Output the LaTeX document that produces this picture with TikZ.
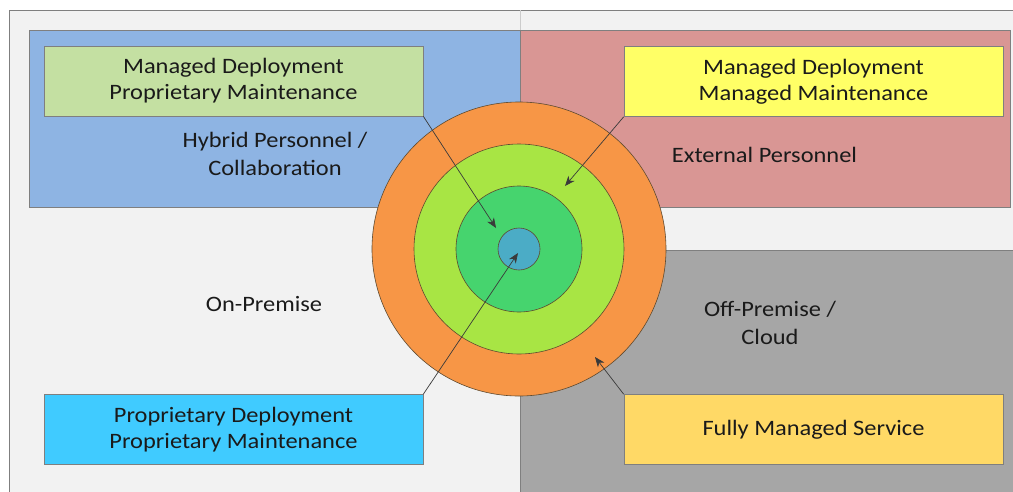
\documentclass[tikz,border=0pt]{standalone}
\usepackage{fontspec}
\setmainfont{Carlito}[FakeStretch=1.11]
\usetikzlibrary{arrows.meta}
\definecolor{bgc}{HTML}{F2F2F2}
\definecolor{framec}{HTML}{7F7F7F}
\definecolor{bluec}{HTML}{8EB4E3}
\definecolor{redc}{HTML}{D99694}
\definecolor{grayc}{HTML}{A6A6A6}
\definecolor{greenbox}{HTML}{C4E0A2}
\definecolor{yellowbox}{HTML}{FFFF66}
\definecolor{cyanbox}{HTML}{40CBFF}
\definecolor{goldbox}{HTML}{FFD966}
\definecolor{orangec}{HTML}{F79646}
\definecolor{lgreenc}{HTML}{A8E544}
\definecolor{dgreenc}{HTML}{46D46E}
\definecolor{centerc}{HTML}{4BACC6}
\definecolor{txtc}{HTML}{1A1A1A}
\definecolor{ringline}{HTML}{5E4A30}
\definecolor{arrline}{HTML}{3A3A3A}
\begin{document}
\begin{tikzpicture}[x=1pt,y=-1pt,
  region/.style={draw=framec, line width=0.7pt},
  ring/.style={circle, draw=ringline, line width=0.6pt, inner sep=0pt},
  box/.style={draw=framec, line width=0.7pt, minimum width=379pt, minimum height=70pt,
    inner sep=0pt, align=center, font=\fontsize{22}{26}\selectfont, text=txtc},
  lbl/.style={align=center, font=\fontsize{22}{28}\selectfont, text=txtc, inner sep=0pt},
  arr/.style={draw=arrline, line width=0.7pt, -{Stealth[length=10pt,width=8pt,inset=3pt]}}
]
\useasboundingbox (0,0) rectangle (1013,491);
\fill[white] (0,0) rectangle (1013,491);
% frame
\draw[region, fill=bgc] (9,10) rectangle (1030,510);
\draw[framec!40, line width=0.5pt] (520,10) -- (520,30);
% regions
\draw[region, fill=bluec] (29,30) rectangle (520,207);
\draw[region, fill=redc] (520,30) rectangle (1010,207);
\draw[region, fill=grayc] (520,250) rectangle (1030,510);
% region labels
\node[lbl] (hyb) at (275,154) {Hybrid Personnel /\\Collaboration};
\node[lbl] (ext) at (764.5,155) {External Personnel};
\node[lbl] (onp) at (264,304) {On-Premise};
\node[lbl] (offp) at (770,322.5) {Off-Premise /\\Cloud};
% rings
\node[ring, fill=orangec, minimum size=294pt] (c4) at (519,249) {};
\node[ring, fill=lgreenc, minimum size=210pt] (c3) at (519,249) {};
\node[ring, fill=dgreenc, minimum size=126pt] (c2) at (519,249) {};
\node[ring, fill=centerc, minimum size=42pt] (c1) at (519,249) {};
% boxes
\node[box, fill=greenbox] (mdpm) at (233.5,81) {Managed Deployment\\Proprietary Maintenance};
\node[box, fill=yellowbox] (mdmm) at (813.5,81.5) {Managed Deployment\\Managed Maintenance};
\node[box, fill=cyanbox] (pdpm) at (233.5,429.5) {Proprietary Deployment\\Proprietary Maintenance};
\node[box, fill=goldbox] (fms) at (813.5,429.5) {Fully Managed Service};
% arrow targets
\coordinate (t1) at (496,228);
\coordinate (t2) at (565,186);
\coordinate (t3) at (518,253);
\coordinate (t4) at (595,357);
% arrows
\draw[arr] (mdpm.south east) -- (t1);
\draw[arr] (mdmm.south west) -- (t2);
\draw[arr] (pdpm.north east) -- (t3);
\draw[arr] (fms.north west) -- (t4);
\end{tikzpicture}
\end{document}
